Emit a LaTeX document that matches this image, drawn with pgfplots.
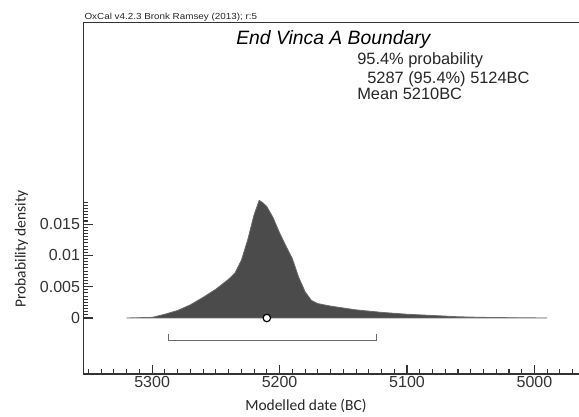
\documentclass[border=0pt]{standalone}
\usepackage{pgfplots}
\pgfplotsset{compat=1.18}
\usepackage{fontspec}
\setmainfont{Liberation Sans}
\newfontfamily\calibri{Carlito}
\definecolor{densfill}{HTML}{4B4B4B}
\definecolor{axisgray}{HTML}{333333}
\definecolor{bargray}{HTML}{6A6A6A}

\begin{document}
\begin{tikzpicture}
\useasboundingbox (0,0) rectangle (434.25pt,312.75pt);
\begin{axis}[
  at={(62.5pt,32.25pt)}, anchor=south west,
  scale only axis, width=371.8pt, height=263.5pt,
  x dir=reverse,
  xmin=4965, xmax=5354,
  ymin=-0.00895, ymax=0.0472,
  axis x line*=bottom, axis y line*=left,
  axis line style={-, line width=1pt, draw=axisgray},
  tick align=inside,
  major tick length=7pt, minor tick length=3.5pt,
  every tick/.style={axisgray, line width=0.8pt},
  xtick={5000,5100,5200,5300},
  minor xtick={4970,4980,...,5350},
  ytick={0,0.005,0.01,0.015},
  yticklabels={0,0.005,0.01,0.015},
  scaled y ticks=false,
  minor ytick={0,0.0005,...,0.0186},
  /pgf/number format/assume math mode=true,
  /pgf/number format/1000 sep={},
  ticklabel style={font=\fontsize{12}{12}\selectfont, text=axisgray},
  xticklabel style={inner sep=0pt, yshift=-1.5pt},
  yticklabel style={inner sep=0pt, xshift=-2.3pt},
  xlabel={Modelled date (BC)},
  ylabel={Probability density},
  label style={font=\calibri\fontsize{11.6}{12}\selectfont, text=black!85},
  xlabel style={at={(axis description cs:0.449,0)}, anchor=center, yshift=-24pt},
  ylabel style={at={(axis description cs:-0.1247,0.356)}, anchor=center},
  clip=false,
]
% posterior density of the boundary
\addplot[fill=densfill, draw=bargray, line width=0.6pt] coordinates {
  (5320,0) (5300,0.0001) (5290,0.0006) (5280,0.0012) (5270,0.0021)
  (5260,0.0033) (5250,0.0046) (5240,0.0062) (5235,0.0072) (5230,0.0092)
  (5225,0.0125) (5220,0.0165) (5216,0.0188) (5213,0.0184) (5210,0.0178)
  (5205,0.0160) (5200,0.0136) (5195,0.0115) (5190,0.0095) (5185,0.0065)
  (5180,0.0042) (5175,0.0028) (5170,0.0023) (5160,0.0019) (5150,0.0016)
  (5140,0.0013) (5120,0.0009) (5100,0.0006) (5080,0.0004) (5060,0.0002)
  (5040,0.0001) (5020,0.00005) (4990,0)
} \closedcycle;
% 95.4% range
\addplot[bargray, line width=0.9pt] coordinates {
  (5287,-0.0026) (5287,-0.00363) (5124,-0.00363) (5124,-0.0026)
};
% mean
\addplot[only marks, mark=*, mark size=2.8pt,
  mark options={fill=white, draw=black, line width=0.9pt}] coordinates {(5210,0)};
\draw[axisgray, line width=1pt] (axis description cs:0,1) -- (axis description cs:1.05,1);
\end{axis}
\node[anchor=base west, inner sep=0pt, xscale=1.12, text=black!85,
  font=\fontsize{6.6}{7}\selectfont] at (63.2pt,297.75pt)
  {OxCal v4.2.3 Bronk Ramsey (2013); r:5};
\node[anchor=base west, inner sep=0pt, font=\itshape\fontsize{14.5}{15}\selectfont]
  at (177pt,279pt) {End Vinca A Boundary};
\node[anchor=base west, inner sep=0pt, text=black!85, font=\fontsize{12.3}{13}\selectfont]
  at (267.75pt,264.4pt) {95.4\% probability};
\node[anchor=base west, inner sep=0pt, text=black!85, font=\fontsize{12.3}{13}\selectfont]
  at (275.25pt,250.3pt) {5287 (95.4\%) 5124BC};
\node[anchor=base west, inner sep=0pt, text=black!85, font=\fontsize{12.3}{13}\selectfont]
  at (267.75pt,237.75pt) {Mean 5210BC};
\node[anchor=base west, inner sep=0pt, font=\calibri\fontsize{16}{16}\selectfont]
  at (0pt,-11.3pt) {Fig.\hspace{6pt}5};
\end{tikzpicture}
\end{document}
